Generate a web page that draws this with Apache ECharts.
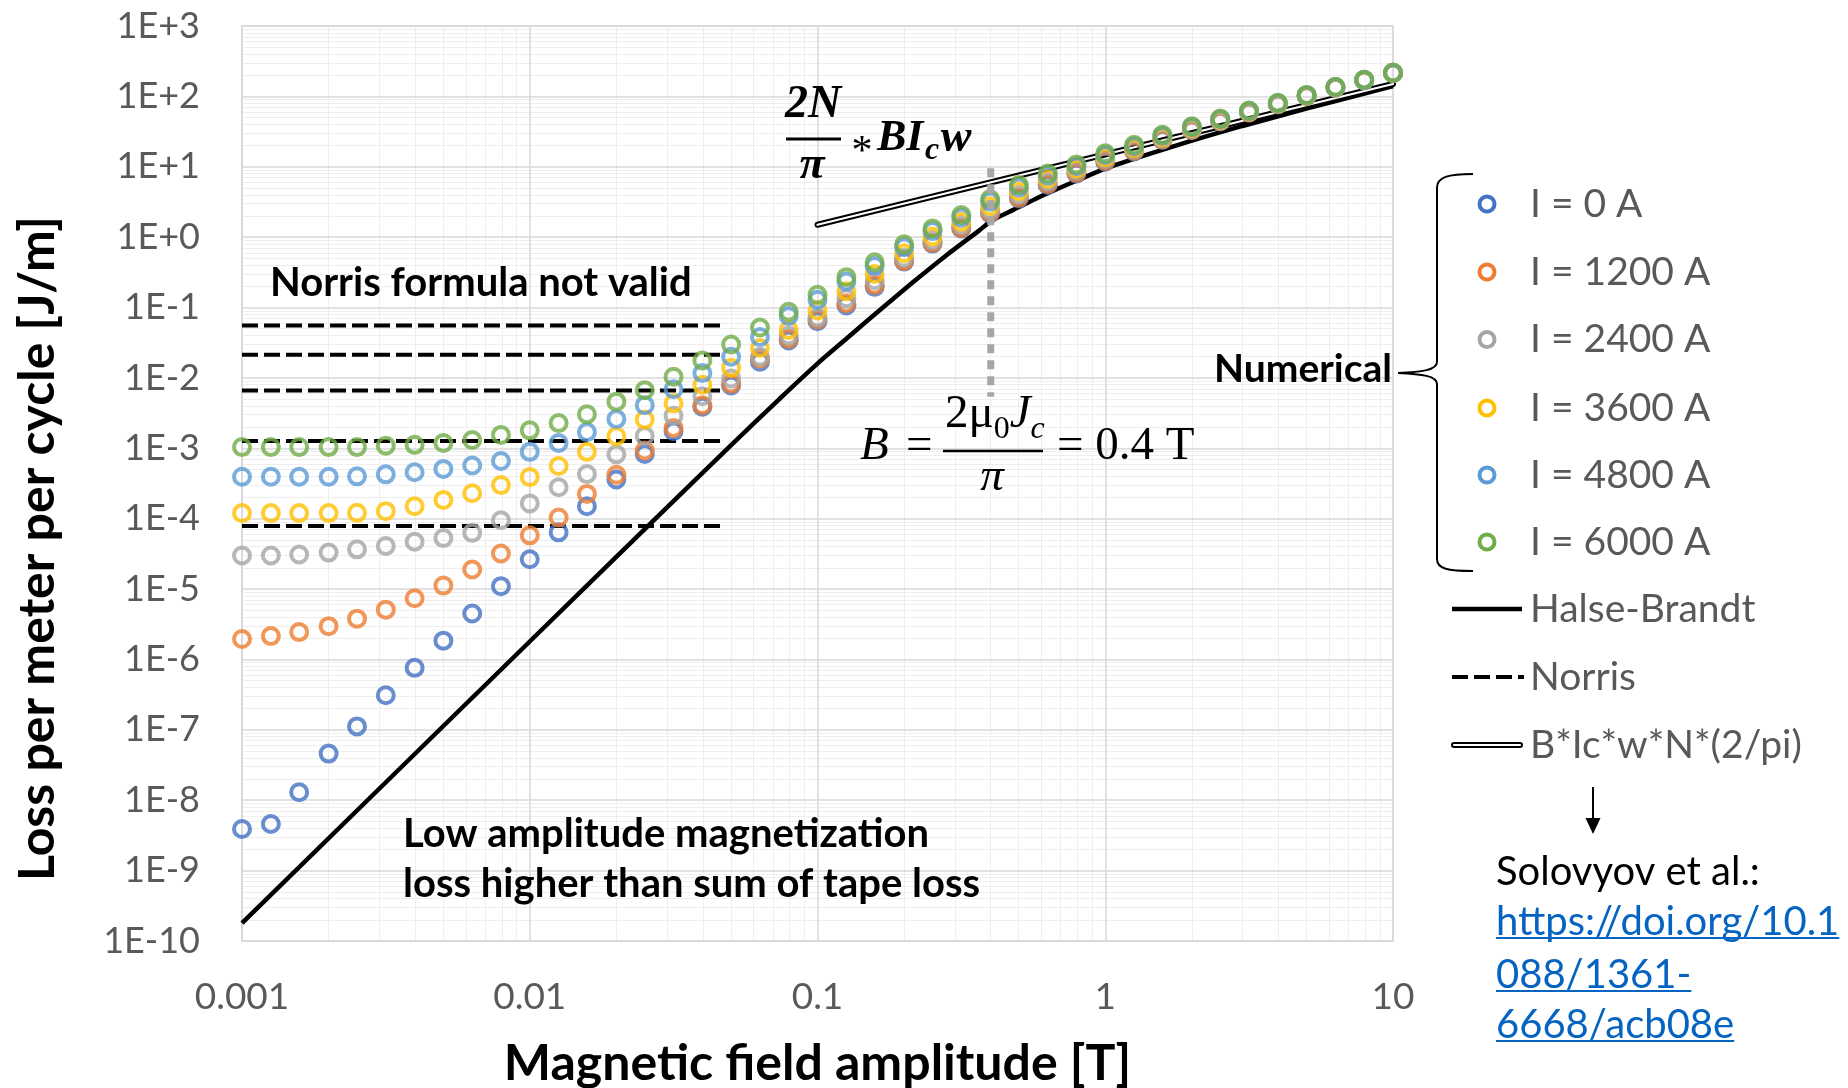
<!DOCTYPE html>
<html>
<head>
<meta charset="utf-8">
<script src="https://cdn.jsdelivr.net/npm/echarts@6/dist/echarts.min.js"></script>
<style>
  html, body { margin: 0; padding: 0; background: #fff; }
  #chart { width: 1848px; height: 1088px; }
</style>
</head>
<body>
<div id="chart"></div>
<script>
// Magnetic field amplitude B [T], ten points per decade
const fieldB = [0.001, 0.00126, 0.00158, 0.002, 0.00251, 0.00316, 0.00398, 0.00501, 0.00631, 0.00794,
  0.01, 0.0126, 0.0158, 0.02, 0.0251, 0.0316, 0.0398, 0.0501, 0.0631, 0.0794,
  0.1, 0.126, 0.158, 0.2, 0.251, 0.316, 0.398, 0.501, 0.631, 0.794,
  1, 1.26, 1.58, 2, 2.51, 3.16, 3.98, 5.01, 6.31, 7.94, 10];

// Numerical loss per meter per cycle [J/m] for each transport current
const lossI0 = [3.9e-9, 4.6e-9, 1.3e-8, 4.6e-8, 1.12e-7, 3.1e-7, 7.6e-7, 1.85e-6, 4.5e-6, 1.1e-5,
  2.65e-5, 6.4e-5, 1.5e-4, 3.6e-4, 8.3e-4, 1.75e-3, 3.9e-3, 7.8e-3, 1.7e-2, 3.4e-2,
  6.4e-2, 0.107, 0.197, 0.45, 0.81, 1.33, 2.17, 3.55, 5.5, 8.0,
  11.8, 16.5, 24, 33, 44, 59, 77, 101, 133, 169, 214];
const lossI1200 = [1.95e-6, 2.15e-6, 2.45e-6, 2.97e-6, 3.8e-6, 5.1e-6, 7.4e-6, 1.12e-5, 1.9e-5, 3.2e-5,
  5.8e-5, 1.04e-4, 2.25e-4, 4.2e-4, 9.3e-4, 1.95e-3, 4.1e-3, 8.3e-3, 1.87e-2, 3.6e-2,
  6.8e-2, 0.115, 0.21, 0.46, 0.83, 1.36, 2.22, 3.65, 5.7, 8.2,
  12.1, 16.8, 24.4, 33.4, 44.5, 59.3, 77.5, 101.3, 133.3, 169.3, 214.3];
const lossI2400 = [3.0e-5, 3.0e-5, 3.1e-5, 3.3e-5, 3.67e-5, 4.1e-5, 4.7e-5, 5.3e-5, 6.3e-5, 9.5e-5,
  1.65e-4, 2.8e-4, 4.3e-4, 8.2e-4, 1.5e-3, 2.9e-3, 5.5e-3, 9.8e-3, 2.0e-2, 4.0e-2,
  7.2e-2, 0.135, 0.245, 0.51, 0.90, 1.48, 2.45, 4.0, 6.2, 8.8,
  12.8, 17.5, 25.2, 34.2, 45.4, 60, 78.2, 102, 134, 170, 215];
const lossI3600 = [1.2e-4, 1.2e-4, 1.2e-4, 1.2e-4, 1.21e-4, 1.28e-4, 1.5e-4, 1.85e-4, 2.3e-4, 3.0e-4,
  3.9e-4, 5.6e-4, 8.9e-4, 1.48e-3, 2.56e-3, 4.35e-3, 8.0e-3, 1.4e-2, 2.66e-2, 4.8e-2,
  9.1e-2, 0.17, 0.30, 0.59, 1.02, 1.65, 2.75, 4.5, 6.8, 9.4,
  13.6, 18.4, 26.2, 35.2, 46.3, 61, 79, 103, 135, 171, 216];
const lossI4800 = [3.95e-4, 3.95e-4, 3.95e-4, 3.95e-4, 4.0e-4, 4.27e-4, 4.57e-4, 5.1e-4, 5.7e-4, 6.6e-4,
  8.9e-4, 1.19e-3, 1.7e-3, 2.6e-3, 4.1e-3, 6.9e-3, 1.17e-2, 2.0e-2, 3.8e-2, 7.6e-2,
  0.129, 0.235, 0.39, 0.72, 1.22, 1.9, 3.2, 5.1, 7.5, 10.2,
  14.7, 19.6, 27.5, 36.5, 47.5, 62, 80, 104, 136, 172, 217];
const lossI6000 = [1.04e-3, 1.04e-3, 1.04e-3, 1.04e-3, 1.04e-3, 1.09e-3, 1.12e-3, 1.19e-3, 1.31e-3, 1.55e-3,
  1.8e-3, 2.28e-3, 3.04e-3, 4.6e-3, 6.7e-3, 1.04e-2, 1.77e-2, 2.98e-2, 5.2e-2, 8.7e-2,
  0.152, 0.27, 0.44, 0.79, 1.33, 2.06, 3.47, 5.5, 8.0, 10.8,
  15.5, 20.5, 28.5, 37.5, 48.5, 63, 81, 105, 137, 173, 218];

const seriesNames = ['I = 0 A', 'I = 1200 A', 'I = 2400 A', 'I = 3600 A', 'I = 4800 A', 'I = 6000 A'];
const seriesColors = ['#4472C4', '#ED7D31', '#A5A5A5', '#FFC000', '#5B9BD5', '#70AD47'];
const seriesLoss = [lossI0, lossI1200, lossI2400, lossI3600, lossI4800, lossI6000];

// Halse-Brandt analytical curve
const hbB = [0.001, 0.01, 0.03, 0.05, 0.074, 0.1, 0.126, 0.164, 0.215, 0.28, 0.366, 0.406,
  0.477, 0.622, 0.813, 1, 1.38, 2, 3, 5, 10];
const hbLoss = [1.8e-10, 1.8e-6, 1.45e-4, 1.1e-3, 5.1e-3, 0.016, 0.036, 0.091, 0.23, 0.55, 1.26, 1.75,
  2.42, 4.1, 6.6, 9.4, 14.6, 23.5, 38, 67, 140];

// Norris transport loss levels (field independent), one per current
const norrisB = [0.001, 0.048];
const norrisLoss = [7.9e-5, 1.27e-3, 6.6e-3, 0.0213, 0.0555];

// High-field asymptote B*Ic*w*N*(2/pi)
const asymB = [0.1, 10];
const asymLoss = [1.5, 150];

// Characteristic field B = 2 mu0 Jc / pi
const critB = 0.4;
const critSpan = [9.5, 0.0054];

const xTickValues = [0.001, 0.01, 0.1, 1, 10];
const xTickLabels = ['0.001', '0.01', '0.1', '1', '10'];
const yTickValues = [1e-10, 1e-9, 1e-8, 1e-7, 1e-6, 1e-5, 1e-4, 1e-3, 1e-2, 1e-1, 1, 10, 100, 1000];
const yTickLabels = ['1E-10', '1E-9', '1E-8', '1E-7', '1E-6', '1E-5', '1E-4', '1E-3', '1E-2',
  '1E-1', '1E+0', '1E+1', '1E+2', '1E+3'];

// Log minor grid positions (2..9 within each decade)
const minorX = [], minorY = [];
for (let e = -3; e < 1; e++) for (let m = 2; m <= 9; m++) minorX.push(+(m * Math.pow(10, e)).toPrecision(3));
for (let e = -10; e < 3; e++) for (let m = 2; m <= 9; m++) minorY.push(+(m * Math.pow(10, e)).toPrecision(3));

const measureCtx = document.createElement('canvas').getContext('2d');
function textWidth(str, font) { measureCtx.font = font; return measureCtx.measureText(str).width; }

const series = [];

// light minor grid
series.push({
  type: 'line', data: [], z: 1, silent: true,
  markLine: {
    z: 1, silent: true, symbol: ['none', 'none'], animation: false, precision: 20,
    label: { show: false }, emphasis: { disabled: true },
    lineStyle: { color: '#eeeeee', width: 1, type: 'solid' },
    data: minorX.map(v => ({ xAxis: v })).concat(minorY.map(v => ({ yAxis: v })))
  }
});

// decade grid with tick labels
series.push({
  type: 'line', data: [], z: 2, silent: true,
  markLine: {
    z: 2, silent: true, symbol: ['none', 'none'], animation: false, precision: 20,
    emphasis: { disabled: true },
    lineStyle: { color: '#d9d9d9', width: 1.5, type: 'solid' },
    data: yTickValues.map((v, i) => ({
      yAxis: v,
      label: { show: true, position: 'start', formatter: yTickLabels[i], distance: 42,
        color: '#595959', fontFamily: 'Lato', fontSize: 36 }
    })).concat(xTickValues.map((v, i) => ({
      xAxis: v,
      label: { show: true, position: 'start', formatter: xTickLabels[i], distance: 38,
        color: '#595959', fontFamily: 'Lato', fontSize: 37 }
    })))
  }
});

series.push({
  name: 'Halse-Brandt', type: 'line', z: 3, symbol: 'none', smooth: 0.25,
  data: hbB.map((b, i) => [b, hbLoss[i]]),
  lineStyle: { color: '#000', width: 4.5 }
});

norrisLoss.forEach(q => {
  series.push({
    name: 'Norris', type: 'line', z: 3, symbol: 'none',
    data: norrisB.map(b => [b, q]),
    lineStyle: { color: '#000', width: 4, type: [16, 6] }
  });
});

series.push({
  name: 'B*Ic*w*N*(2/pi)', type: 'line', z: 3, symbol: 'none',
  data: asymB.map((b, i) => [b, asymLoss[i]]),
  lineStyle: { color: '#000', width: 6, cap: 'round' }
});
series.push({
  type: 'line', z: 3, symbol: 'none', silent: true,
  data: asymB.map((b, i) => [b, asymLoss[i]]),
  lineStyle: { color: '#fff', width: 2.2, cap: 'round' }
});

seriesLoss.forEach((arr, s) => {
  series.push({
    name: seriesNames[s], type: 'scatter', z: 4,
    symbol: 'circle', symbolSize: 16,
    data: fieldB.map((b, i) => [b, arr[i]]),
    itemStyle: { color: 'rgba(255,255,255,0)', borderColor: seriesColors[s], borderWidth: 4 }
  });
});

series.push({
  type: 'line', z: 5, symbol: 'none', silent: true,
  data: critSpan.map(q => [critB, q]),
  lineStyle: { color: '#A6A6A6', width: 7, type: [9, 7] }
});

// ---- annotations and legend ----
const graphic = [];
const BOLD = 'bold 40px Lato';
graphic.push({ type: 'text', style: { text: 'Norris formula not valid', x: 270, y: 283, font: BOLD, fill: '#000', verticalAlign: 'middle' } });
graphic.push({ type: 'text', style: { text: 'Low amplitude magnetization', x: 403, y: 834, font: BOLD, fill: '#000', verticalAlign: 'middle' } });
graphic.push({ type: 'text', style: { text: 'loss higher than sum of tape loss', x: 403, y: 884, font: BOLD, fill: '#000', verticalAlign: 'middle' } });
graphic.push({ type: 'text', style: { text: 'Numerical', x: 1392, y: 369, font: 'bold 39px Lato', fill: '#000', align: 'right', verticalAlign: 'middle' } });

// curly brace grouping the numerical series
const brace = { stroke: '#000', lineWidth: 2, fill: null };
graphic.push({ type: 'bezierCurve', shape: { x1: 1473, y1: 174, cpx1: 1448, cpy1: 174, cpx2: 1437, cpy2: 177, x2: 1437, y2: 188 }, style: brace });
graphic.push({ type: 'line', shape: { x1: 1437, y1: 188, x2: 1437, y2: 362 }, style: brace });
graphic.push({ type: 'bezierCurve', shape: { x1: 1437, y1: 362, cpx1: 1437, cpy1: 370, cpx2: 1422, cpy2: 372, x2: 1398, y2: 373 }, style: brace });
graphic.push({ type: 'bezierCurve', shape: { x1: 1398, y1: 373, cpx1: 1422, cpy1: 374, cpx2: 1437, cpy2: 376, x2: 1437, y2: 384 }, style: brace });
graphic.push({ type: 'line', shape: { x1: 1437, y1: 384, x2: 1437, y2: 559 }, style: brace });
graphic.push({ type: 'bezierCurve', shape: { x1: 1437, y1: 559, cpx1: 1437, cpy1: 569, cpx2: 1448, cpy2: 571, x2: 1473, y2: 571 }, style: brace });

// formula: 2N/pi * B Ic w
const SBI = 'bold italic 46px "Liberation Serif"';
graphic.push({ type: 'text', style: { text: '2N', x: 813, y: 105, font: SBI, fill: '#000', align: 'center', verticalAlign: 'middle' } });
graphic.push({ type: 'line', shape: { x1: 786, y1: 139, x2: 841, y2: 139 }, style: { stroke: '#000', lineWidth: 3 } });
graphic.push({ type: 'text', style: { text: 'π', x: 812, y: 166, font: SBI, fill: '#000', align: 'center', verticalAlign: 'middle' } });
graphic.push({ type: 'text', style: { text: '*', x: 862, y: 153, font: '42px "Liberation Serif"', fill: '#000', align: 'center', verticalAlign: 'middle' } });
(function () {
  const runs = [
    { t: 'BI', font: 'bold italic 44px "Liberation Serif"', y: 139 },
    { t: 'c', font: 'bold italic 32px "Liberation Serif"', y: 151 },
    { t: 'w', font: 'bold italic 46px "Liberation Serif"', y: 139 }
  ];
  let x = 877;
  runs.forEach(r => {
    graphic.push({ type: 'text', style: { text: r.t, x: x, y: r.y, font: r.font, fill: '#000', verticalAlign: 'middle' } });
    x += textWidth(r.t, r.font) + 1.5;
  });
})();

// formula: B = 2 mu0 Jc / pi = 0.4 T
const SR = '47px "Liberation Serif"', SI = 'italic 47px "Liberation Serif"';
graphic.push({ type: 'text', style: { text: 'B', x: 860, y: 447, font: SI, fill: '#000', verticalAlign: 'middle' } });
graphic.push({ type: 'text', style: { text: '=', x: 906, y: 447, font: SR, fill: '#000', verticalAlign: 'middle' } });
(function () {
  const runs = [
    { t: '2μ', font: SR, y: 415 },
    { t: '0', font: '32px "Liberation Serif"', y: 430 },
    { t: 'J', font: SI, y: 415 },
    { t: 'c', font: 'italic 32px "Liberation Serif"', y: 430 }
  ];
  let x = 945;
  runs.forEach(r => {
    graphic.push({ type: 'text', style: { text: r.t, x: x, y: r.y, font: r.font, fill: '#000', verticalAlign: 'middle' } });
    x += textWidth(r.t, r.font);
  });
})();
graphic.push({ type: 'line', shape: { x1: 943, y1: 451, x2: 1043, y2: 451 }, style: { stroke: '#000', lineWidth: 2.5 } });
graphic.push({ type: 'text', style: { text: 'π', x: 992, y: 478, font: SI, fill: '#000', align: 'center', verticalAlign: 'middle' } });
graphic.push({ type: 'text', style: { text: '= 0.4 T', x: 1057, y: 447, font: SR, fill: '#000', verticalAlign: 'middle' } });

// legend
const LEG_FONT = '39px Lato';
const legRows = [204, 272, 339.5, 408, 475, 542, 609, 677, 745];
seriesNames.forEach((n, i) => {
  graphic.push({ type: 'circle', shape: { cx: 1487, cy: legRows[i], r: 7.5 }, style: { fill: null, stroke: seriesColors[i], lineWidth: 4 } });
  graphic.push({ type: 'text', style: { text: n, x: 1530, y: legRows[i], font: LEG_FONT, fill: '#595959', verticalAlign: 'middle' } });
});
graphic.push({ type: 'line', shape: { x1: 1452, y1: legRows[6], x2: 1522, y2: legRows[6] }, style: { stroke: '#000', lineWidth: 4.5 } });
graphic.push({ type: 'text', style: { text: 'Halse-Brandt', x: 1530, y: legRows[6], font: LEG_FONT, fill: '#595959', verticalAlign: 'middle' } });
graphic.push({ type: 'line', shape: { x1: 1452, y1: legRows[7], x2: 1524, y2: legRows[7] }, style: { stroke: '#000', lineWidth: 4, lineDash: [16, 6] } });
graphic.push({ type: 'text', style: { text: 'Norris', x: 1530, y: legRows[7], font: LEG_FONT, fill: '#595959', verticalAlign: 'middle' } });
graphic.push({ type: 'line', shape: { x1: 1454, y1: legRows[8], x2: 1520, y2: legRows[8] }, style: { stroke: '#000', lineWidth: 6, lineCap: 'round' } });
graphic.push({ type: 'line', shape: { x1: 1454, y1: legRows[8], x2: 1520, y2: legRows[8] }, style: { stroke: '#fff', lineWidth: 2.2, lineCap: 'round' } });
graphic.push({ type: 'text', style: { text: 'B*Ic*w*N*(2/pi)', x: 1530, y: legRows[8], font: LEG_FONT, fill: '#595959', verticalAlign: 'middle' } });

// reference note
graphic.push({ type: 'line', shape: { x1: 1593, y1: 787, x2: 1593, y2: 821 }, style: { stroke: '#000', lineWidth: 2 } });
graphic.push({ type: 'polygon', shape: { points: [[1585.5, 818], [1600.5, 818], [1593, 834]] }, style: { fill: '#000' } });
const REF_FONT = '40px Lato';
graphic.push({ type: 'text', style: { text: 'Solovyov et al.:', x: 1496, y: 872, font: REF_FONT, fill: '#000', verticalAlign: 'middle' } });
[['https://doi.org/10.1', 922], ['088/1361-', 975], ['6668/acb08e', 1025]].forEach(([t, y]) => {
  graphic.push({ type: 'text', style: { text: t, x: 1496, y: y, font: REF_FONT, fill: '#0563C1', verticalAlign: 'middle' } });
  const w = textWidth(t, REF_FONT);
  graphic.push({ type: 'line', shape: { x1: 1496, y1: y + 16, x2: 1496 + w, y2: y + 16 }, style: { stroke: '#0563C1', lineWidth: 2 } });
});

// keep annotations above the plot
graphic.forEach(g => { g.z = 100; g.silent = true; });

const titleText = { color: '#000', fontFamily: 'Lato', fontWeight: 'bold', fontSize: 50 };

const option = {
  animation: false,
  backgroundColor: '#fff',
  grid: { left: 242, top: 26, right: 455, bottom: 147, outerBoundsMode: 'none',
    show: true, borderColor: '#d9d9d9', borderWidth: 1.5 },
  xAxis: {
    type: 'log', logBase: 10, min: 0.001, max: 10,
    axisLine: { show: true, lineStyle: { color: '#d9d9d9', width: 1.5 } },
    axisTick: { show: false },
    axisLabel: { show: false },
    splitLine: { show: false },
    name: 'Magnetic field amplitude [T]', nameLocation: 'middle', nameGap: 98, nameMoveOverlap: false,
    nameTextStyle: titleText
  },
  yAxis: {
    type: 'log', logBase: 10, min: 1e-10, max: 1000,
    axisLine: { show: true, lineStyle: { color: '#d9d9d9', width: 1.5 } },
    axisTick: { show: false },
    axisLabel: { show: false },
    splitLine: { show: false },
    name: 'Loss per meter per cycle [J/m]', nameLocation: 'middle', nameGap: 179, nameMoveOverlap: false,
    nameTextStyle: Object.assign({ padding: [0, 130, 0, 0] }, titleText)
  },
  series: series,
  graphic: graphic
};

const chart = echarts.init(document.getElementById('chart'), null, { renderer: 'canvas' });
chart.setOption(option);
</script>
</body>
</html>
